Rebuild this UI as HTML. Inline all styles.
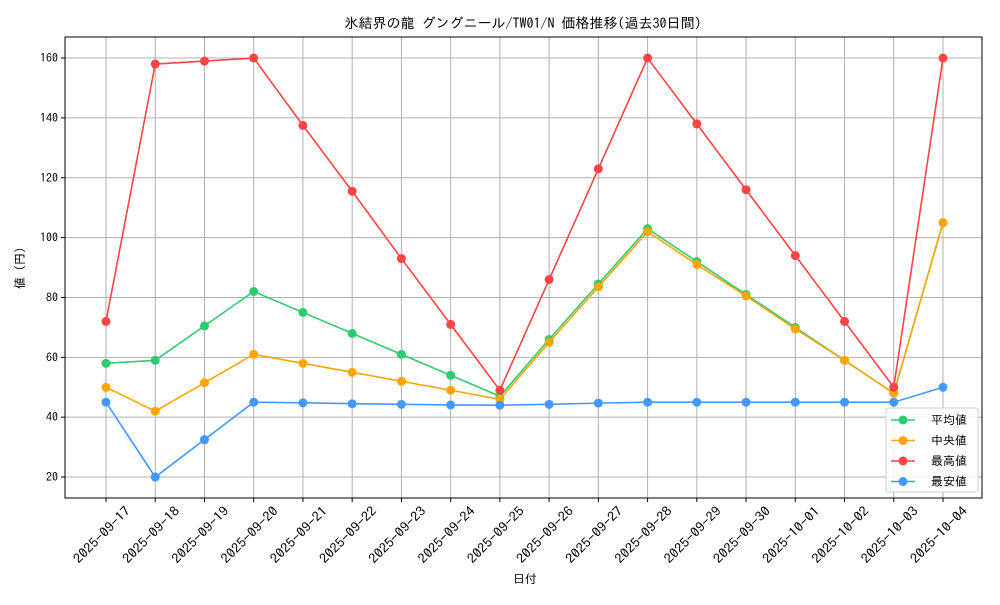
<!DOCTYPE html>
<html><head><meta charset="utf-8"><style>
body{margin:0;background:#fff}
svg text{font-family:"IPAGothic","Noto Sans CJK JP",monospace;fill:#000}
</style></head><body>
<svg id="chart" width="1000" height="600" xmlns="http://www.w3.org/2000/svg"></svg>
<script>
const dates=["2025-09-17","2025-09-18","2025-09-19","2025-09-20","2025-09-21","2025-09-22","2025-09-23","2025-09-24","2025-09-25","2025-09-26","2025-09-27","2025-09-28","2025-09-29","2025-09-30","2025-10-01","2025-10-02","2025-10-03","2025-10-04"];
const avgVals=[58,59,70.5,82,75,68,61,54,47,66,84.5,103,92,81,70,59,48,105];
const medVals=[50,42,51.5,61,58,55,52,49,46,65,83.5,102,91,80.5,69.5,59,48,105];
const maxVals=[72,158,159,160,137.5,115.5,93,71,49,86,123,160,138,116,94,72,50,160];
const minVals=[45,20,32.5,45,44.8,44.5,44.3,44.1,44,44.3,44.7,45,45,45,45,45,45,50];
const yTicks=[20,40,60,80,100,120,140,160];
const seriesNames=["平均値","中央値","最高値","最安値"];
const NS="http://www.w3.org/2000/svg";
const svg=document.getElementById('chart');
const L=65,R=982,T=37,B=498;
const x=i=>106+i*(943-106)/(dates.length-1);
const y=v=>536.9-v*(477-58)/140;
function el(tag,attrs,parent){const e=document.createElementNS(NS,tag);for(const k in attrs)e.setAttribute(k,attrs[k]);(parent||svg).appendChild(e);return e;}
const grid=el('g',{});


dates.forEach((d,i)=>{el('line',{x1:x(i),x2:x(i),y1:T,y2:B,stroke:'#b0b0b0','stroke-width':1},grid);});
yTicks.forEach(v=>{el('line',{x1:L,x2:R,y1:y(v),y2:y(v),stroke:'#b0b0b0','stroke-width':1},grid);});
const frame=el('rect',{x:L,y:T,width:R-L,height:B-T,fill:'none',stroke:'#000','stroke-width':1});


yTicks.forEach(v=>{
  el('line',{x1:L-4,x2:L,y1:y(v),y2:y(v),stroke:'#000'});
  const t=el('text',{x:L-7,y:y(v)+4,'text-anchor':'end','font-size':12});t.textContent=v;
  
  
});
dates.forEach((d,i)=>{
  el('line',{x1:x(i),x2:x(i),y1:B,y2:B+4,stroke:'#000'});
  const cx=x(i)-1, cy=B+40;
  const t=el('text',{x:cx,y:cy,'text-anchor':'middle','font-size':13,textLength:74,lengthAdjust:'spacingAndGlyphs',transform:`rotate(-45 ${cx} ${cy})`});t.textContent=d;
  
  
});
let t=el('text',{x:523,y:28,'text-anchor':'middle','font-size':14});t.textContent='氷結界の龍 グングニール/TW01/N 価格推移(過去30日間)';


t=el('text',{x:525,y:583,'text-anchor':'middle','font-size':12});t.textContent='日付';


t=el('text',{x:24,y:268,'text-anchor':'middle','font-size':12,transform:'rotate(-90 24 268)'});t.textContent='値 (円)';


const colors=['#2ecc71','#ffa500','#ff4444','#4499ff'];
const data=[avgVals,medVals,maxVals,minVals];
const keys=['avg','median','max','min'];
data.forEach((vals,s)=>{
  const g=el('g',{});
  
  
  el('polyline',{points:vals.map((v,i)=>x(i)+','+y(v)).join(' '),fill:'none',stroke:colors[s],'stroke-width':1.6},g);
  vals.forEach((v,i)=>{
    const c=el('circle',{cx:x(i),cy:y(v),r:4.5,fill:colors[s]},g);
    
    
  });
});
const lg=el('g',{});


el('rect',{x:886,y:408,width:92,height:84,rx:2,fill:'#fff','fill-opacity':0.85,stroke:'#ccc'},lg);
seriesNames.forEach((n,s)=>{
  const yy=420+s*20.5;
  const e=el('g',{},lg);
  
  
  el('line',{x1:891,x2:915,y1:yy,y2:yy,stroke:colors[s],'stroke-width':1.6},e);
  el('circle',{cx:903,cy:yy,r:4.5,fill:colors[s]},e);
  const tx=el('text',{x:931,y:yy+4,'font-size':12},e);tx.textContent=n;
});
</script>
</body></html>
